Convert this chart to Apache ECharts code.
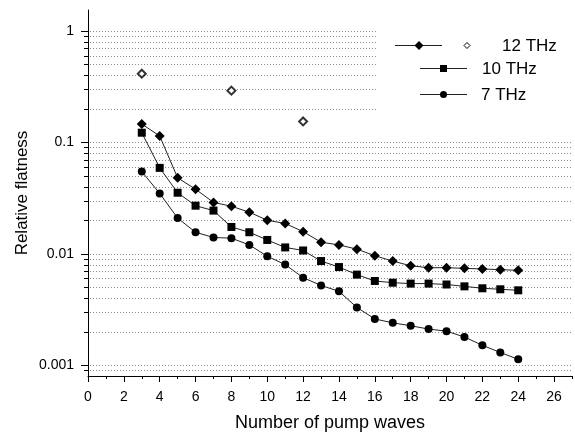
<!DOCTYPE html>
<html>
<head>
<meta charset="utf-8">
<script src="https://cdn.jsdelivr.net/npm/echarts@6/dist/echarts.min.js"></script>
<style>
  html, body { margin: 0; padding: 0; background: #fff; }
  #chart { width: 575px; height: 437px; }
</style>
</head>
<body>
<div id="chart"></div>
<script>
// pump wave counts
var pumpWaves = [3, 4, 5, 6, 7, 8, 9, 10, 11, 12, 13, 14, 15, 16, 17, 18, 19, 20, 21, 22, 23, 24];

// relative flatness
var flat12 = [0.146, 0.114, 0.048, 0.038, 0.0289, 0.0267, 0.0236, 0.0200, 0.0187, 0.0158, 0.0127,
              0.0120, 0.0110, 0.0096, 0.0086, 0.0078, 0.0075, 0.0075, 0.0074, 0.0073, 0.0072, 0.0071];
var flat10 = [0.122, 0.059, 0.0353, 0.0270, 0.0244, 0.0174, 0.0156, 0.0133, 0.0114, 0.0107, 0.0086,
              0.0076, 0.0065, 0.0057, 0.0055, 0.0054, 0.0054, 0.0053, 0.0051, 0.0049, 0.0048, 0.0047];
var flat7 = [0.0547, 0.0348, 0.0209, 0.0156, 0.0140, 0.0138, 0.0120, 0.0095, 0.0080, 0.0061, 0.0052,
             0.0046, 0.0033, 0.0026, 0.0024, 0.00226, 0.00211, 0.00202, 0.00179, 0.00151, 0.00130, 0.00113];

// open diamonds (12 THz, second set)
var open12X = [3, 8, 12];
var open12Y = [0.413, 0.291, 0.154];

// axes
var xMajorTicks = [0, 2, 4, 6, 8, 10, 12, 14, 16, 18, 20, 22, 24, 26];
var xMinorTicks = [1, 3, 5, 7, 9, 11, 13, 15, 17, 19, 21, 23, 25, 27];
var yMajorValues = [0.001, 0.01, 0.1, 1];
var yTickLabels = ['0.001', '0.01', '0.1', '1'];
var yGridValues = [0.0009, 0.001, 0.002, 0.003, 0.004, 0.005, 0.006, 0.007, 0.008, 0.009,
                   0.01, 0.02, 0.03, 0.04, 0.05, 0.06, 0.07, 0.08, 0.09,
                   0.1, 0.2, 0.3, 0.4, 0.5, 0.6, 0.7, 0.8, 0.9, 1];

var FONT = 'Liberation Sans, Arial, sans-serif';

function pairs(xs, ys) {
    var out = [];
    for (var i = 0; i < xs.length; i++) out.push([xs[i], ys[i]]);
    return out;
}

function renderYGrid(params, api) {
    var v = api.value(1);
    var p0 = api.coord([0, v]);
    var p1 = api.coord([27, v]);
    var y = Math.round(p0[1]) + 0.5;
    var len = api.value(2) ? 7 : 4;
    return {
        type: 'group',
        children: [
            {type: 'line', shape: {x1: p0[0] - len, y1: y, x2: p0[0], y2: y}, style: {stroke: '#000', lineWidth: 1}},
            {type: 'line', shape: {x1: p0[0] + 2, y1: y, x2: p1[0], y2: y}, style: {stroke: '#8a8a8a', lineWidth: 1, lineDash: [1, 2]}}
        ]
    };
}

var chart = echarts.init(document.getElementById('chart'), null, {renderer: 'canvas'});

var lineStyle = {color: '#222', width: 1};
var LZ = 100; // legend drawn above the grid lines

var option = {
    animation: false,
    backgroundColor: '#fff',
    textStyle: {fontFamily: FONT},
    grid: {left: 88, right: 3, top: 10, bottom: 59, containLabel: false},
    xAxis: [{
        type: 'value', min: 0, max: 27, interval: 2,
        name: 'Number of pump waves', nameLocation: 'middle', nameGap: 38, nameMoveOverlap: false,
        nameTextStyle: {fontSize: 18, color: '#000', fontFamily: FONT},
        axisLine: {show: true, lineStyle: {color: '#000', width: 1}},
        axisTick: {show: true, length: 6, lineStyle: {color: '#000'}, customValues: xMajorTicks},
        axisLabel: {fontSize: 14, color: '#000', margin: 14, fontFamily: FONT, customValues: xMajorTicks},
        splitLine: {show: false}
    }, {
        type: 'value', min: 0, max: 27, position: 'bottom', gridIndex: 0,
        axisLine: {show: false},
        axisTick: {show: true, length: 3, lineStyle: {color: '#000'}, customValues: xMinorTicks},
        axisLabel: {show: false},
        splitLine: {show: false}
    }],
    yAxis: {
        type: 'log', logBase: 10, min: 0.0008, max: 1.54,
        name: 'Relative flatness', nameLocation: 'middle', nameGap: 57, nameMoveOverlap: false,
        nameTextStyle: {fontSize: 17, color: '#000', fontFamily: FONT},
        axisLine: {show: true, lineStyle: {color: '#000', width: 1}},
        axisTick: {show: false},
        axisLabel: {
            fontSize: 14, color: '#000', margin: 14, fontFamily: FONT,
            showMinLabel: false, showMaxLabel: false,
            formatter: function (v) {
                var e = Math.log10(v);
                var r = Math.round(e);
                if (Math.abs(e - r) > 1e-6) return '';
                var idx = r + 3;
                return yTickLabels[idx] || '';
            }
        },
        splitLine: {show: false}
    },
    series: [
        {
            type: 'custom', name: 'grid', silent: true, clip: false, z: 1,
            renderItem: renderYGrid,
            data: yGridValues.map(function (v) { return [0, v, yMajorValues.indexOf(v) >= 0 ? 1 : 0]; })
        },
        {
            type: 'line', name: '12 THz', data: pairs(pumpWaves, flat12),
            symbol: 'diamond', symbolSize: 10, lineStyle: lineStyle,
            itemStyle: {color: '#000'}, z: 3
        },
        {
            type: 'line', name: '10 THz', data: pairs(pumpWaves, flat10),
            symbol: 'rect', symbolSize: 8, lineStyle: lineStyle,
            itemStyle: {color: '#000'}, z: 3
        },
        {
            type: 'line', name: '7 THz', data: pairs(pumpWaves, flat7),
            symbol: 'circle', symbolSize: 8, lineStyle: lineStyle,
            itemStyle: {color: '#000'}, z: 3
        },
        {
            type: 'scatter', name: '12 THz open', data: pairs(open12X, open12Y),
            symbol: 'emptyDiamond', symbolSize: 8,
            itemStyle: {color: '#000', borderColor: '#000', borderWidth: 1}, z: 3
        }
    ],
    graphic: {
        zlevel: 1,
        elements: [
            {type: 'rect', z: LZ, shape: {x: 377, y: 20, width: 198, height: 104}, style: {fill: '#fff'}},
            // 12 THz
            {type: 'line', z: LZ + 1, shape: {x1: 395, y1: 45.5, x2: 442, y2: 45.5}, style: {stroke: '#222', lineWidth: 1}},
            {type: 'polygon', z: LZ + 2, shape: {points: [[419, 41], [423.5, 45.5], [419, 50], [414.5, 45.5]]}, style: {fill: '#000'}},
            {type: 'polygon', z: LZ + 2, shape: {points: [[467, 42.5], [470, 45.5], [467, 48.5], [464, 45.5]]}, style: {fill: '#fff', stroke: '#000', lineWidth: 1}},
            {type: 'text', z: LZ + 2, x: 502, y: 46, style: {text: '12 THz', fontSize: 17, fontFamily: FONT, fill: '#000', verticalAlign: 'middle'}},
            // 10 THz
            {type: 'line', z: LZ + 1, shape: {x1: 420, y1: 68.5, x2: 467, y2: 68.5}, style: {stroke: '#222', lineWidth: 1}},
            {type: 'rect', z: LZ + 2, shape: {x: 440, y: 65, width: 7, height: 7}, style: {fill: '#000'}},
            {type: 'text', z: LZ + 2, x: 482, y: 69, style: {text: '10 THz', fontSize: 17, fontFamily: FONT, fill: '#000', verticalAlign: 'middle'}},
            // 7 THz
            {type: 'line', z: LZ + 1, shape: {x1: 420, y1: 94.5, x2: 467, y2: 94.5}, style: {stroke: '#222', lineWidth: 1}},
            {type: 'circle', z: LZ + 2, shape: {cx: 443.5, cy: 94.5, r: 3.5}, style: {fill: '#000'}},
            {type: 'text', z: LZ + 2, x: 481, y: 95, style: {text: '7 THz', fontSize: 17, fontFamily: FONT, fill: '#000', verticalAlign: 'middle'}}
        ]
    }
};

chart.setOption(option);
</script>
</body>
</html>
